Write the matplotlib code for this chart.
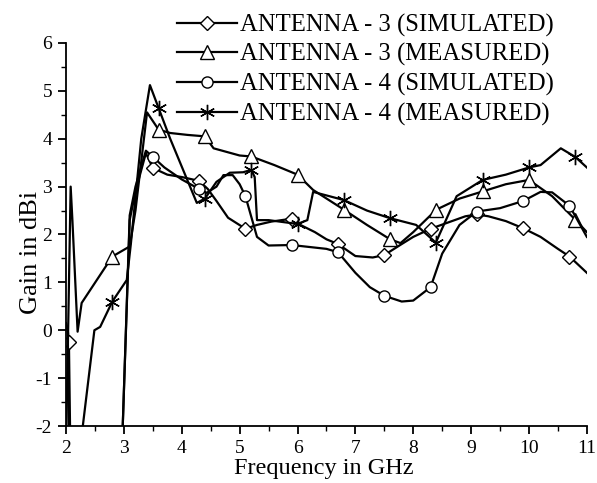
import numpy as np
import matplotlib
matplotlib.use("Agg")
import matplotlib.pyplot as plt
from matplotlib.ticker import MultipleLocator

# -----------------------------------------------------
#   DATA
# -----------------------------------------------------
# Antenna 3, simulated (diamonds)
a3_sim_x = [2.00, 2.03, 2.05, 2.08, 2.90, 2.98, 3.10, 3.20, 3.38, 3.50, 3.75, 4.00,
            4.30, 4.45, 4.60, 4.80, 5.10, 5.30, 5.55, 5.90, 6.05, 6.30, 6.50, 6.70,
            7.00, 7.30, 7.50, 7.80, 8.00, 8.30, 8.60, 8.90, 9.10, 9.30, 9.60, 9.90,
            10.20, 10.50, 10.70, 11.00]
a3_sim_y = [0.10, 0.00, -0.24, -3.0, -3.0, -2.0, 2.30, 2.90, 3.70, 3.39, 3.25, 3.20,
            3.12, 2.95, 2.70, 2.35, 2.12, 2.20, 2.27, 2.33, 2.20, 2.05, 1.90, 1.80,
            1.55, 1.52, 1.57, 1.80, 1.95, 2.12, 2.25, 2.38, 2.42, 2.38, 2.28, 2.13,
            1.95, 1.70, 1.54, 1.20]
a3_sim_marks = [2, 9, 12, 16, 19, 23, 26, 29, 32, 35, 38]

# Antenna 3, measured (triangles)
a3_meas_x = [2.00, 2.08, 2.11, 2.20, 2.27, 2.80, 3.10, 3.20, 3.40, 3.60, 3.80, 4.10,
             4.40, 4.55, 5.00, 5.20, 5.60, 6.00, 6.27, 6.80, 7.20, 7.60, 7.78, 8.00,
             8.40, 8.80, 9.20, 9.60, 10.00, 10.40, 10.80, 11.00]
a3_meas_y = [-2.5, 3.00, 2.30, -0.03, 0.57, 1.54, 1.75, 2.50, 4.55, 4.19, 4.12, 4.08,
             4.05, 3.80, 3.65, 3.63, 3.45, 3.25, 2.93, 2.52, 2.20, 1.90, 1.82, 2.05,
             2.52, 2.75, 2.90, 3.05, 3.14, 2.80, 2.31, 2.05]
a3_meas_marks = [5, 9, 12, 15, 17, 19, 21, 24, 26, 28, 30]

# Antenna 4, simulated (circles)
a4_sim_x = [2.00, 2.03, 2.06, 2.90, 2.98, 3.10, 3.20, 3.38, 3.50, 3.70, 4.00, 4.30,
            4.43, 4.60, 4.72, 4.88, 5.00, 5.10, 5.30, 5.50, 5.90, 6.20, 6.50, 6.70,
            7.00, 7.25, 7.50, 7.80, 8.00, 8.30, 8.50, 8.80, 9.10, 9.50, 9.90, 10.20,
            10.40, 10.70, 11.00]
a4_sim_y = [0.15, 0.00, -3.0, -3.0, -2.0, 2.40, 3.00, 3.75, 3.62, 3.40, 3.15, 2.95,
            2.87, 3.00, 3.24, 3.24, 3.05, 2.80, 1.95, 1.77, 1.78, 1.74, 1.70, 1.63,
            1.20, 0.90, 0.72, 0.60, 0.62, 0.90, 1.60, 2.20, 2.48, 2.55, 2.70, 2.89,
            2.88, 2.60, 1.95]
a4_sim_marks = [8, 11, 17, 20, 23, 26, 29, 32, 34, 37]

# Antenna 4, measured (stars)
a4_meas_x = [2.27, 2.49, 2.59, 2.80, 3.05, 3.12, 3.30, 3.45, 3.60, 3.80, 4.26, 4.40,
             4.60, 4.83, 5.06, 5.20, 5.26, 5.30, 5.50, 6.00, 6.17, 6.27, 6.80, 7.20,
             7.60, 8.05, 8.39, 8.75, 9.20, 9.60, 10.00, 10.20, 10.55, 10.80, 11.00]
a4_meas_y = [-2.2, 0.00, 0.07, 0.60, 1.05, 1.80, 4.00, 5.12, 4.64, 4.00, 2.66, 2.75,
             3.10, 3.29, 3.30, 3.35, 3.20, 2.30, 2.30, 2.22, 2.30, 2.89, 2.72, 2.50,
             2.34, 2.20, 1.83, 2.80, 3.14, 3.25, 3.40, 3.45, 3.80, 3.62, 3.40]
a4_meas_marks = [3, 8, 11, 15, 19, 22, 24, 26, 28, 30, 33]

labels = ["ANTENNA - 3 (SIMULATED)", "ANTENNA - 3 (MEASURED)",
          "ANTENNA - 4 (SIMULATED)", "ANTENNA - 4 (MEASURED)"]


# -----------------------------------------------------
#   PLOT
# -----------------------------------------------------
def main():
    plt.rcParams["font.family"] = ["Liberation Serif", "DejaVu Serif"]
    plt.rcParams["axes.unicode_minus"] = False

    fig = plt.figure(figsize=(5.97, 4.83), dpi=100)
    ax = fig.add_axes([0.1106, 0.118, 0.8724, 0.793])

    style = dict(color="black", lw=1.6, mfc="white", mec="black", mew=1.0)
    ax.plot(a3_sim_x, a3_sim_y, marker="D", ms=7.5, markevery=a3_sim_marks,
            label=labels[0], **style)
    ax.plot(a3_meas_x, a3_meas_y, marker="^", ms=9.5, markevery=a3_meas_marks,
            label=labels[1], **style)
    ax.plot(a4_sim_x, a4_sim_y, marker="o", ms=8, markevery=a4_sim_marks,
            label=labels[2], **style)
    ax.plot(a4_meas_x, a4_meas_y, marker=(6, 2, 0), ms=11, markevery=a4_meas_marks,
            label=labels[3], **style)

    ax.set_xlim(2, 11)
    ax.set_ylim(-2, 6)
    ax.xaxis.set_major_locator(MultipleLocator(1))
    ax.xaxis.set_minor_locator(MultipleLocator(0.5))
    ax.yaxis.set_major_locator(MultipleLocator(1))
    ax.yaxis.set_minor_locator(MultipleLocator(0.5))
    ax.spines["top"].set_visible(False)
    ax.spines["right"].set_visible(False)
    ax.spines["left"].set_linewidth(1.3)
    ax.spines["bottom"].set_linewidth(1.3)
    ax.tick_params(which="major", direction="out", length=6, width=1.3,
                   labelsize=14, pad=4)
    ax.tick_params(which="minor", direction="out", length=3.5, width=1.0)

    ax.set_xlabel("Frequency in GHz", fontsize=17.5)
    ax.set_ylabel("Gain in dBi", fontsize=19)
    ax.xaxis.set_label_coords(0.494, -0.083)
    ax.yaxis.set_label_coords(-0.047, 0.454)

    fig.legend(loc="upper left", bbox_to_anchor=(0.297, 0.972), frameon=False,
               fontsize=17.8, handlelength=2.4, handletextpad=0.15,
               labelspacing=0.27, borderpad=0.0, borderaxespad=0.0, numpoints=1)

    plt.savefig("out.png", dpi=100)
    plt.close()


if __name__ == "__main__":
    main()
